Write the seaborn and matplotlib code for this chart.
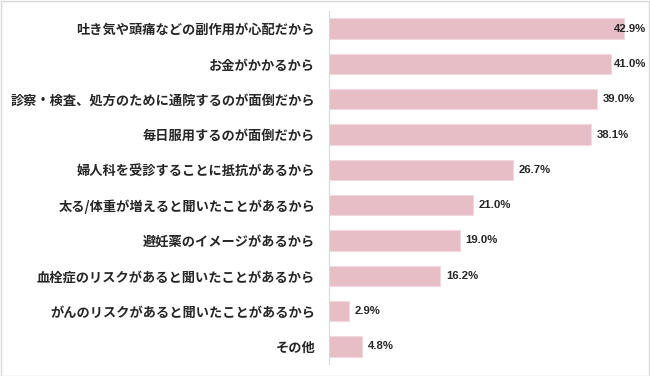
import matplotlib
matplotlib.use("Agg")
import matplotlib.pyplot as plt
import seaborn as sns
import pandas as pd
from matplotlib.patches import Rectangle

categories = [
    "吐き気や頭痛などの副作用が心配だから",
    "お金がかかるから",
    "診察・検査、処方のために通院するのが面倒だから",
    "毎日服用するのが面倒だから",
    "婦人科を受診することに抵抗があるから",
    "太る/体重が増えると聞いたことがあるから",
    "避妊薬のイメージがあるから",
    "血栓症のリスクがあると聞いたことがあるから",
    "がんのリスクがあると聞いたことがあるから",
    "その他",
]
values = [42.9, 41.0, 39.0, 38.1, 26.7, 21.0, 19.0, 16.2, 2.9, 4.8]
value_labels = [f"{v:.1f}%" for v in values]

df = pd.DataFrame({"reason": categories, "pct": values})

sns.set_theme(style="white")
plt.rcParams["font.family"] = ["Noto Sans CJK JP", "DejaVu Sans"]

W, H = 650, 376
fig = plt.figure(figsize=(W / 100, H / 100), dpi=100)
ax = fig.add_axes([329 / W, 1 - 364 / H, (648 - 329) / W, (364 - 11) / H])

sns.barplot(data=df, x="pct", y="reason", orient="h", color="#E7BDC6",
            width=0.58, edgecolor="#F2D9DE", linewidth=0.8, saturation=1, ax=ax)

px_per_unit = 6.88
xmax = (648 - 329) / px_per_unit
ax.set_xlim(0, xmax)
ax.set_ylim(9.5, -0.5)

gap = 5.5 / px_per_unit
text_w = 30 / px_per_unit
right_lim = (646 - 329) / px_per_unit
num_font = ["Liberation Sans", "DejaVu Sans"]
for i, (v, lab) in enumerate(zip(values, value_labels)):
    if v + gap + text_w > right_lim:
        ax.text(right_lim, i, lab, ha="right", va="center", fontsize=8.2,
                fontweight="bold", color="#262626", family=num_font)
    else:
        ax.text(v + gap, i, lab, ha="left", va="center", fontsize=8.2,
                fontweight="bold", color="#262626", family=num_font)

ax.set_xlabel("")
ax.set_ylabel("")
ax.set_xticks([])
ax.tick_params(axis="y", length=0, pad=10)
for t in ax.get_yticklabels():
    t.set_fontsize(9.5)
    t.set_fontweight("bold")
    t.set_color("#262626")
for s in ["top", "right", "bottom"]:
    ax.spines[s].set_visible(False)
ax.spines["left"].set_color("#D9D9D9")
ax.spines["left"].set_linewidth(0.8)

fig.patches.append(Rectangle((0.5 / W, 0.5 / H), 1 - 1.5 / W, 1 - 1.5 / H,
                             transform=fig.transFigure, fill=False,
                             edgecolor="#D9D9D9", linewidth=1.0))

fig.savefig("out.png", dpi=100)
